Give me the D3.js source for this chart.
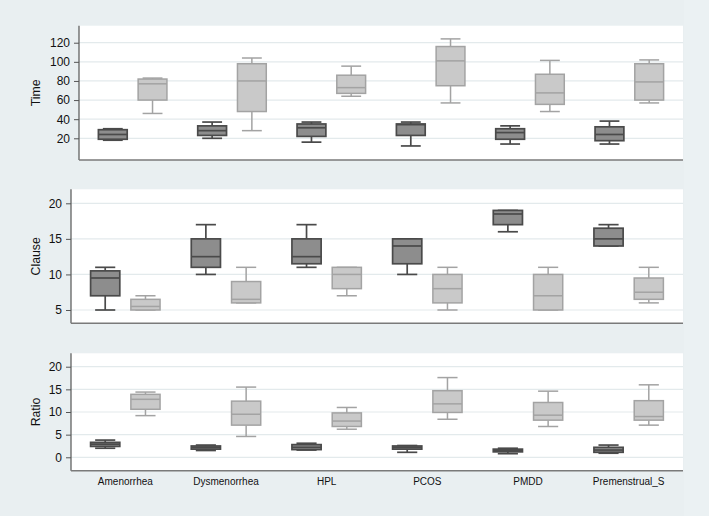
<!DOCTYPE html>
<html><head><meta charset="utf-8">
<script src="https://cdn.jsdelivr.net/npm/d3@7"></script>
<style>body{margin:0;background:#e9eff1;} svg{display:block;}</style>
</head><body>
<svg id="chart" width="709" height="516"></svg>
<script>
const categories = ["Amenorrhea","Dysmenorrhea","HPL","PCOS","PMDD","Premenstrual_S"];
// each entry: [min, q1, median, q3, max]
const timeDark  = [[18,19,24,29,30],[20,23,28,33,37],[16,22,31,35,37],[12,23,34.3,35,37],[14,19,26,30,33],[14,17.5,24,32,38]];
const timeLight = [[46,60,77,82,83],[28,48,80,98,104],[64,67,73,86,95.5],[57,75,101,116,124],[48,55.5,67.5,87,101.5],[57,60,79,98,102]];
const clauseDark  = [[5,7,9.5,10.5,11],[10,11,12.5,15,17],[11,11.5,12.5,15,17],[10,11.5,14,15,15],[16,17,18.5,19,19],[14,14,15,16.5,17]];
const clauseLight = [[5,5,5.5,6.5,7],[6,6,6.5,9,11],[7,8,10,11,11],[5,6,8,10,11],[5,5,7,10,11],[6,6.5,7.5,9.5,11]];
const ratioDark  = [[2,2.4,2.9,3.3,3.8],[1.5,1.8,2.2,2.5,2.7],[1.6,1.7,2.2,2.8,3.1],[1.1,1.8,2.2,2.5,2.6],[0.8,1.2,1.5,1.8,2.0],[0.9,1.1,1.6,2.2,2.7]];
const ratioLight = [[9.2,10.6,12.8,13.9,14.4],[4.6,7.1,9.5,12.4,15.5],[6.2,6.8,8,9.8,11],[8.4,9.9,11.8,14.7,17.6],[6.8,8.2,9.3,12.1,14.6],[7.1,8.2,9,12.5,16]];
const timeTicks = [20,40,60,80,100,120];
const clauseTicks = [5,10,15,20];
const ratioTicks = [0,5,10,15,20];

const panels = [
  {title:"Time",   dark:timeDark,   light:timeLight,   ticks:timeTicks,   domain:[-2.7,137.8], left:79, right:683, top:25.7,  bottom:160,   xlabels:false},
  {title:"Clause", dark:clauseDark, light:clauseLight, ticks:clauseTicks, domain:[3.13,21.97], left:71, right:683, top:189.3, bottom:323.3, xlabels:false},
  {title:"Ratio",  dark:ratioDark,  light:ratioLight,  ticks:ratioTicks,  domain:[-2.96,22.96],left:71, right:683, top:353.3, bottom:470.7, xlabels:true}
];

const svg = d3.select("#chart");
const font = "'Liberation Sans', Arial, Helvetica, sans-serif";
svg.append("rect").attr("width",709).attr("height",516).attr("fill","#e9eff1");
svg.append("rect").attr("x",684).attr("width",25).attr("height",516).attr("fill","#ebf1f3");

const styles = {
  dark:  {fill:"#8d8d8d", stroke:"#4a4a4a", sw:1.7},
  light: {fill:"#c9c9c9", stroke:"#a3a3a3", sw:1.5}
};

panels.forEach(p => {
  const g = svg.append("g");
  const y = d3.scaleLinear().domain(p.domain).range([p.bottom, p.top]);
  const x = d3.scaleBand().domain(categories).range([p.left+4, p.right-4]);
  const bw = x.bandwidth();
  g.append("rect").attr("x",p.left).attr("y",p.top).attr("width",p.right-p.left).attr("height",p.bottom-p.top).attr("fill","#ffffff");
  g.selectAll("line.grid").data(p.ticks).enter().append("line")
    .attr("x1",p.left).attr("x2",p.right)
    .attr("y1",d=>y(d)).attr("y2",d=>y(d))
    .attr("stroke","#e3eaec").attr("stroke-width",1.2);
  const boxW = bw*0.29, capW = bw*0.2;
  [["dark",-0.2],["light",0.2]].forEach(([key,off]) => {
    const st = styles[key];
    const data = p[key];
    categories.forEach((c,i) => {
      const [mn,q1,md,q3,mx] = data[i];
      const cx = x(c) + bw/2 + off*bw;
      const bg = g.append("g").attr("stroke",st.stroke).attr("stroke-width",st.sw);
      bg.append("line").attr("x1",cx).attr("x2",cx).attr("y1",y(q3)).attr("y2",y(mx));
      bg.append("line").attr("x1",cx).attr("x2",cx).attr("y1",y(q1)).attr("y2",y(mn));
      bg.append("line").attr("x1",cx-capW/2).attr("x2",cx+capW/2).attr("y1",y(mx)).attr("y2",y(mx));
      bg.append("line").attr("x1",cx-capW/2).attr("x2",cx+capW/2).attr("y1",y(mn)).attr("y2",y(mn));
      bg.append("rect").attr("x",cx-boxW/2).attr("width",boxW)
        .attr("y",y(q3)).attr("height",Math.max(0.5,y(q1)-y(q3))).attr("fill",st.fill);
      bg.append("line").attr("x1",cx-boxW/2).attr("x2",cx+boxW/2).attr("y1",y(md)).attr("y2",y(md));
    });
  });
  const ya = g.append("g").attr("transform",`translate(${p.left},0)`)
    .call(d3.axisLeft(y).tickValues(p.ticks).tickSize(5).tickPadding(4).tickFormat(d3.format("d")));
  ya.select(".domain").attr("d",`M0,${p.top}V${p.bottom}`).attr("stroke","#555").attr("stroke-width",1.2);
  ya.selectAll(".tick line").attr("stroke","#555").attr("stroke-width",1);
  ya.selectAll(".tick text").attr("font-family",font).attr("font-size",12).attr("fill","#111");
  const xa = g.append("g").attr("transform",`translate(0,${p.bottom})`)
    .call(d3.axisBottom(x).tickSize(0).tickPadding(7));
  xa.select(".domain").attr("d",`M${p.left},0H${p.right}`).attr("stroke","#7a7a7a").attr("stroke-width",1.6);
  if (p.xlabels) {
    xa.selectAll(".tick text").attr("font-family",font).attr("font-size",10).attr("fill","#111");
  } else {
    xa.selectAll(".tick").remove();
  }
  g.append("text").attr("transform",`translate(39.5,${(p.top+p.bottom)/2}) rotate(-90)`)
    .attr("text-anchor","middle").attr("font-family",font).attr("font-size",12.3).attr("fill","#111").text(p.title);
});
</script>
</body></html>
